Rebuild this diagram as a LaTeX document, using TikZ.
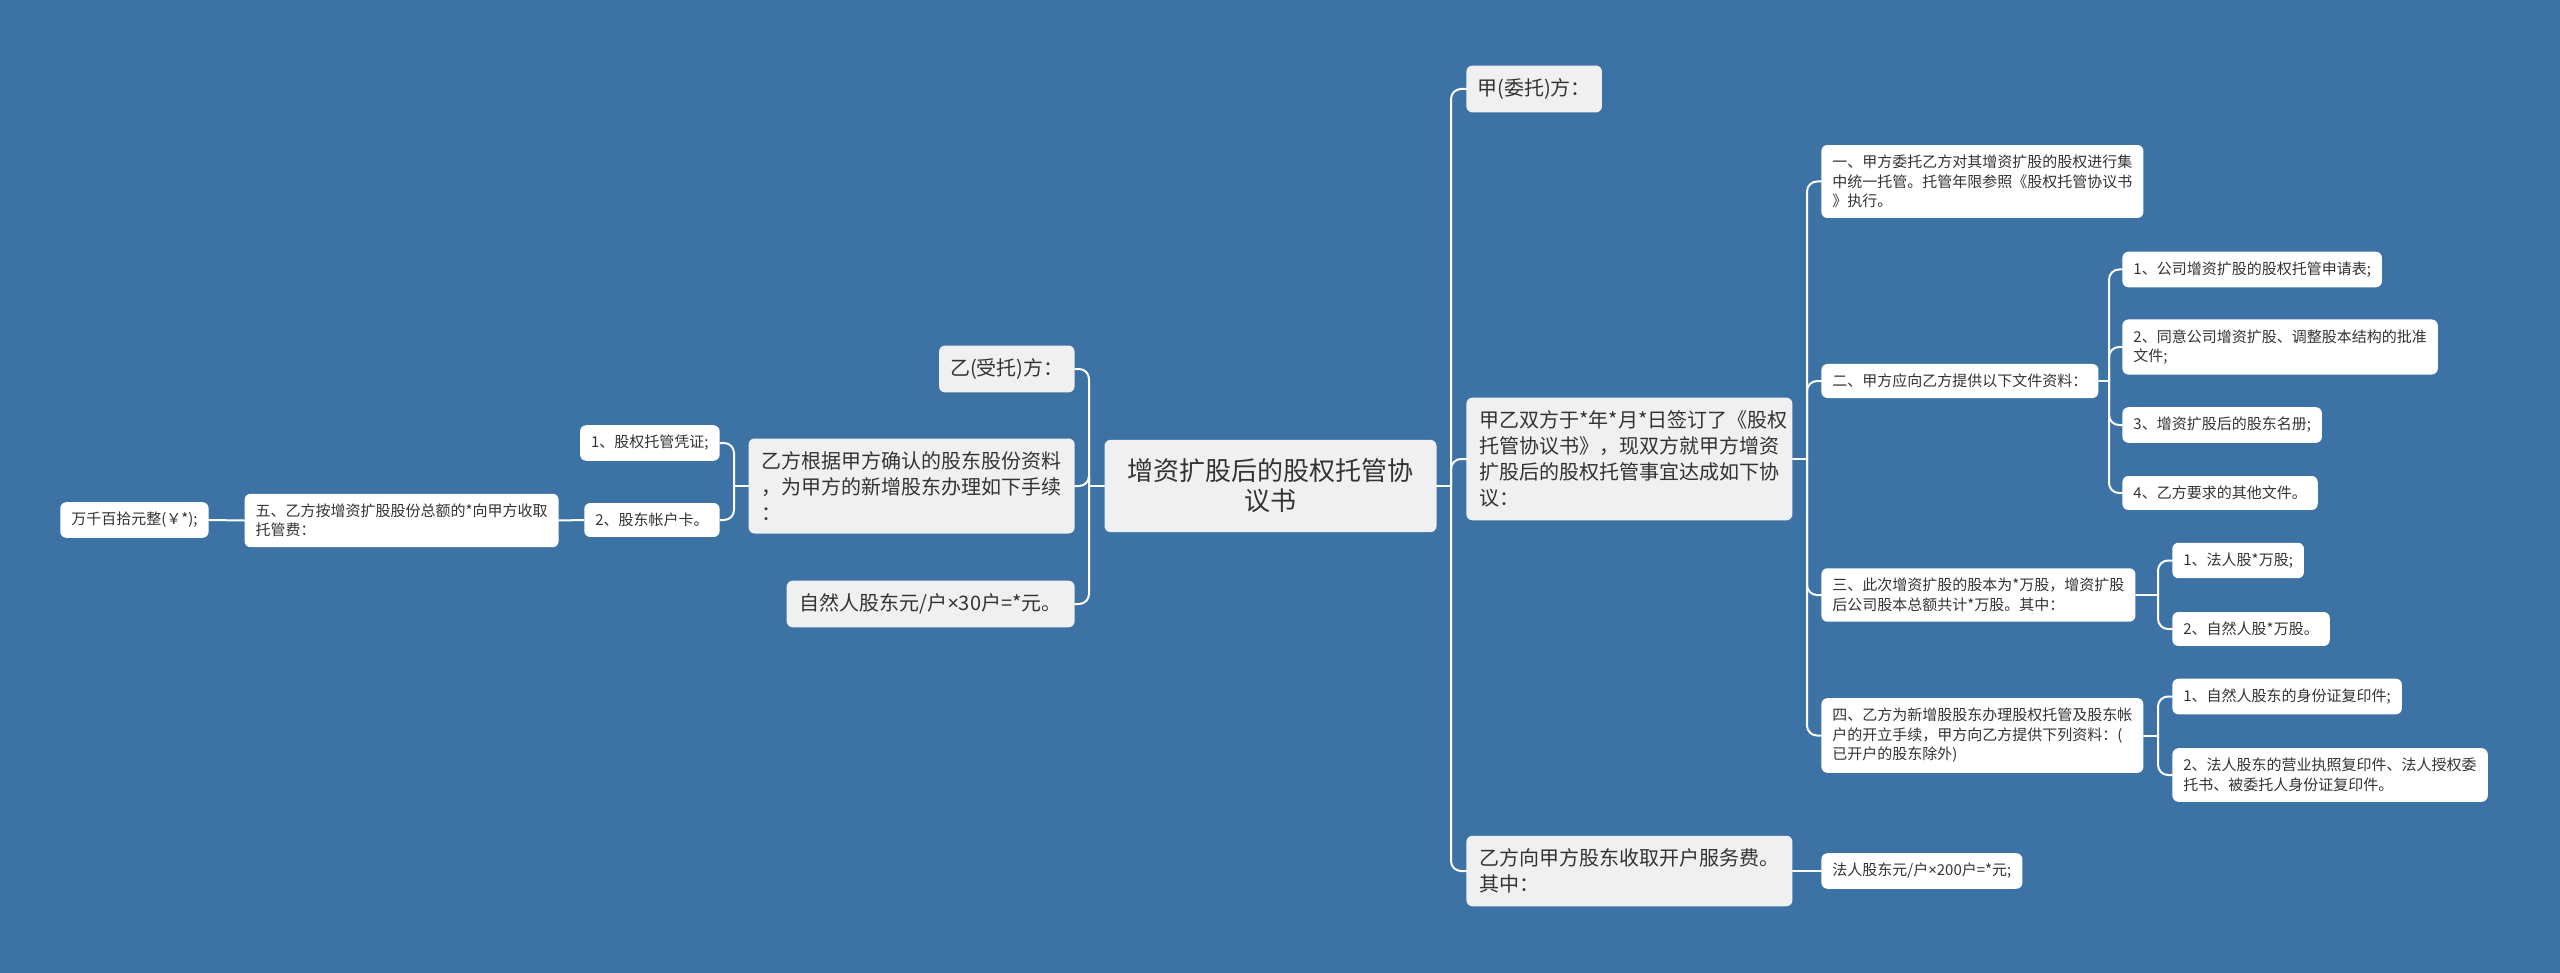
\documentclass[tikz,border=0pt]{standalone}
\usepackage{fontspec}
\setmainfont{Noto Sans CJK SC}
\newfontfamily\latino{Noto Sans}
\newcommand{\por}{{\latino ×}}
\definecolor{fondo}{HTML}{3D72A5}
\definecolor{gris}{HTML}{F0F0F0}
\definecolor{texto}{HTML}{333333}
\begin{document}
\begin{tikzpicture}[x=0.5pt, y=-0.5pt, line cap=round, line join=round,
  caja/.style={rounded corners=3pt, text=texto, align=left},
  raiz/.style={caja, fill=gris, align=center, font=\fontsize{13}{15}\selectfont, inner xsep=11.5pt, inner ysep=9.5pt},
  rama/.style={caja, fill=gris, font=\fontsize{10}{13}\selectfont, inner xsep=6.5pt, inner ysep=6.5pt},
  hoja/.style={caja, fill=white, font=\fontsize{7.5}{9.75}\selectfont, inner xsep=5.5pt, inner ysep=5pt},
  linea/.style={draw=white, line width=1pt, rounded corners=5pt}]
  % el fondo azul
  \fill[fondo] (0,0) rectangle (2560,973);
  % el título en el centro
  \node[raiz] (raiz) at (1270.5,486) {增资扩股后的股权托管协\\议书};
  % la rama derecha, primer nivel
  \node[rama, anchor=west, inner xsep=5.5pt] (jia) at (1466,89) {甲(委托)方：};
  \node[rama, anchor=west, text width=150pt] (acuerdo) at (1466,459)
    {甲乙双方于*年*月*日签订了《股权\\托管协议书》，现双方就甲方增资\\扩股后的股权托管事宜达成如下协\\议：};
  \node[rama, anchor=west] (cobro) at (1466,871) {乙方向甲方股东收取开户服务费。\\其中：};
  % los puntos del acuerdo
  \node[hoja, anchor=west] (uno) at (1821,181.5)
    {一、甲方委托乙方对其增资扩股的股权进行集\\中统一托管。托管年限参照《股权托管协议书\\》执行。};
  \node[hoja, anchor=west] (dos) at (1821,381) {二、甲方应向乙方提供以下文件资料：};
  \node[hoja, anchor=west] (tres) at (1821,595)
    {三、此次增资扩股的股本为*万股，增资扩股\\后公司股本总额共计*万股。其中：};
  \node[hoja, anchor=west] (cuatro) at (1821,735.5)
    {四、乙方为新增股股东办理股权托管及股东帐\\户的开立手续，甲方向乙方提供下列资料：(\\已开户的股东除外)};
  \node[hoja, anchor=west] (tarifa) at (1821,871) {法人股东元/户\por200户=*元;};
  % los documentos del punto dos
  \node[hoja, anchor=west] (d1) at (2122,269.5) {1、公司增资扩股的股权托管申请表;};
  \node[hoja, anchor=west] (d2) at (2122,347) {2、同意公司增资扩股、调整股本结构的批准\\文件;};
  \node[hoja, anchor=west] (d3) at (2122,425) {3、增资扩股后的股东名册;};
  \node[hoja, anchor=west] (d4) at (2122,493) {4、乙方要求的其他文件。};
  % las acciones del punto tres y los papeles del cuatro
  \node[hoja, anchor=west] (t1) at (2172,560.5) {1、法人股*万股;};
  \node[hoja, anchor=west] (t2) at (2172,629) {2、自然人股*万股。};
  \node[hoja, anchor=west] (c1) at (2172,696.5) {1、自然人股东的身份证复印件;};
  \node[hoja, anchor=west] (c2) at (2172,775) {2、法人股东的营业执照复印件、法人授权委\\托书、被委托人身份证复印件。};
  % la rama izquierda
  \node[rama, anchor=east, inner xsep=5.5pt] (yi) at (1075,369) {乙(受托)方：};
  \node[rama, anchor=east] (tramite) at (1075,486)
    {乙方根据甲方确认的股东股份资料\\，为甲方的新增股东办理如下手续\\：};
  \node[rama, anchor=east] (natural) at (1075,604) {自然人股东元/户\por30户=*元。};
  \node[hoja, anchor=east] (p1) at (720,443) {1、股权托管凭证;};
  \node[hoja, anchor=east] (p2) at (720,520) {2、股东帐户卡。};
  \node[hoja, anchor=east] (cinco) at (559,520.5) {五、乙方按增资扩股股份总额的*向甲方收取\\托管费：};
  \node[hoja, anchor=east] (monto) at (209,520) {万千百拾元整(￥*);};
  % las uniones
  \coordinate (jDer) at (1451,486);
  \coordinate (jAc) at (1807,459);
  \coordinate (jDos) at (2109,381);
  \coordinate (jTres) at (2158,595);
  \coordinate (jCuatro) at (2158,735.5);
  \coordinate (jIzq) at (1089,486);
  \coordinate (jTram) at (734,486);
  \draw[linea] (raiz.east) -- (jDer);
  \foreach \n in {jia,acuerdo,cobro} { \draw[linea] (jDer) |- (\n.west); }
  \draw[linea] (acuerdo.east) -- (jAc);
  \foreach \n in {uno,dos,tres,cuatro} { \draw[linea] (jAc) |- (\n.west); }
  \draw[linea] (dos.east) -- (jDos);
  \foreach \n in {d1,d2,d3,d4} { \draw[linea] (jDos) |- (\n.west); }
  \draw[linea] (tres.east) -- (jTres);
  \foreach \n in {t1,t2} { \draw[linea] (jTres) |- (\n.west); }
  \draw[linea] (cuatro.east) -- (jCuatro);
  \foreach \n in {c1,c2} { \draw[linea] (jCuatro) |- (\n.west); }
  \draw[linea] (cobro.east) -- (tarifa.west);
  \draw[linea] (raiz.west) -- (jIzq);
  \foreach \n in {yi,tramite,natural} { \draw[linea] (jIzq) |- (\n.east); }
  \draw[linea] (tramite.west) -- (jTram);
  \foreach \n in {p1,p2} { \draw[linea] (jTram) |- (\n.east); }
  \draw[linea] (p2.west) -- (cinco.east);
  \draw[linea] (cinco.west) -- (monto.east);
\end{tikzpicture}
\end{document}
